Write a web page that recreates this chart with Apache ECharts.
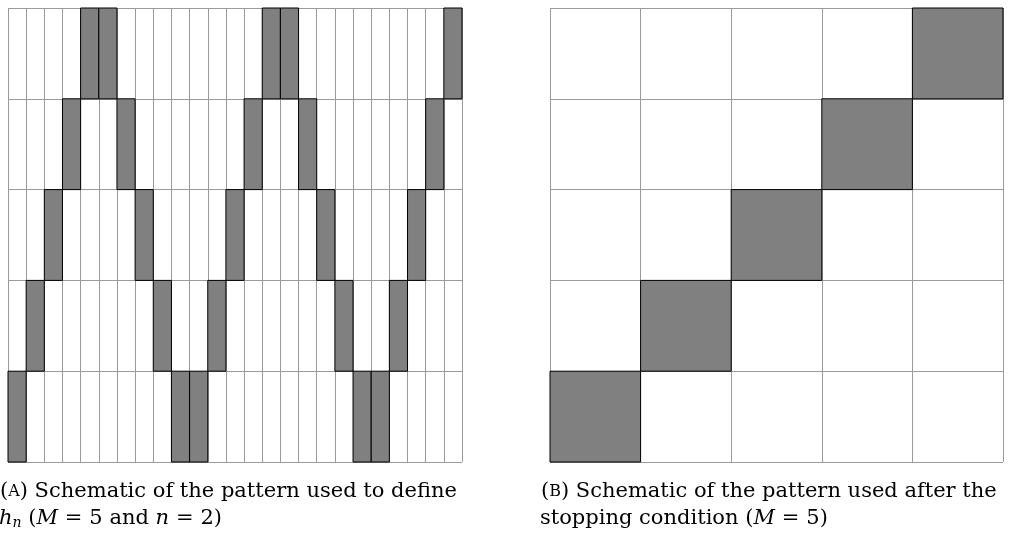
<!DOCTYPE html>
<html>
<head>
<meta charset="utf-8">
<script src="https://cdn.jsdelivr.net/npm/echarts@6/dist/echarts.min.js"></script>
<style>html,body{margin:0;padding:0;background:#fff;}#c{width:1010px;height:533px;}</style>
</head>
<body>
<div id="c"></div>
<script>
// Data
const leftCols = 25, leftRowsCount = 5;
const leftFilledRows = [0,1,2,3,4,4,3,2,1,0,0,1,2,3,4,4,3,2,1,0,0,1,2,3,4];
const rightCols = 5, rightRowsCount = 5;
const rightFilledRows = [0,1,2,3,4];

const leftData = leftFilledRows.map((r, i) => [i, r]);
const rightData = rightFilledRows.map((r, i) => [i, r]);

const gridColor = '#9a9a9a';
const serif = '"DejaVu Serif", serif';

function cellRender(params, api) {
  const x = api.value(0), y = api.value(1);
  const p0 = api.coord([x, y + 1]);
  const p1 = api.coord([x + 1, y]);
  return {
    type: 'rect',
    shape: {x: p0[0], y: p0[1], width: p1[0] - p0[0], height: p1[1] - p0[1]},
    style: {fill: '#808080', stroke: '#000', lineWidth: 1}
  };
}

function axis(gi, max) {
  return {
    type: 'value', gridIndex: gi, min: 0, max: max, interval: 1,
    axisLabel: {show: false}, axisTick: {show: false},
    axisLine: {show: false},
    splitLine: {show: true, lineStyle: {color: gridColor, width: 1}}
  };
}

const rich = {
  t: {fontFamily: serif, fontSize: 21, color: '#000'},
  sc: {fontFamily: serif, fontSize: 16, color: '#000'},
  i: {fontFamily: serif, fontSize: 21, fontStyle: 'italic', color: '#000'},
  sub: {fontFamily: serif, fontSize: 14, fontStyle: 'italic', color: '#000', verticalAlign: 'bottom', padding: [9, 0, 0, 0]}
};

const chart = echarts.init(document.getElementById('c'), null, {renderer: 'canvas'});
chart.setOption({
  animation: false,
  backgroundColor: '#fff',
  grid: [
    {left: 8, top: 8, width: 454, height: 454},
    {left: 550, top: 8, width: 453, height: 454}
  ],
  xAxis: [axis(0, leftCols), axis(1, rightCols)],
  yAxis: [axis(0, leftRowsCount), axis(1, rightRowsCount)],
  series: [
    {type: 'custom', xAxisIndex: 0, yAxisIndex: 0, renderItem: cellRender, data: leftData, z: 5},
    {type: 'custom', xAxisIndex: 1, yAxisIndex: 1, renderItem: cellRender, data: rightData, z: 5}
  ],
  graphic: [
    {type: 'text', left: 0, top: 481, style: {
      text: '{t|(}{sc|A}{t|) Schematic of the pattern used to define}',
      rich: rich}},
    {type: 'text', left: -1, top: 508, style: {
      text: '{i|h}{sub|n}{t| (}{i|M}{t|\u2004=\u20045 and }{i|n}{t|\u2004=\u20042)}',
      rich: rich}},
    {type: 'text', left: 541, top: 481, style: {
      text: '{t|(}{sc|B}{t|) Schematic of the pattern used after the}',
      rich: rich}},
    {type: 'text', left: 540, top: 508, style: {
      text: '{t|stopping condition (}{i|M}{t|\u2004=\u20045)}',
      rich: rich}}
  ]
});
</script>
</body>
</html>
